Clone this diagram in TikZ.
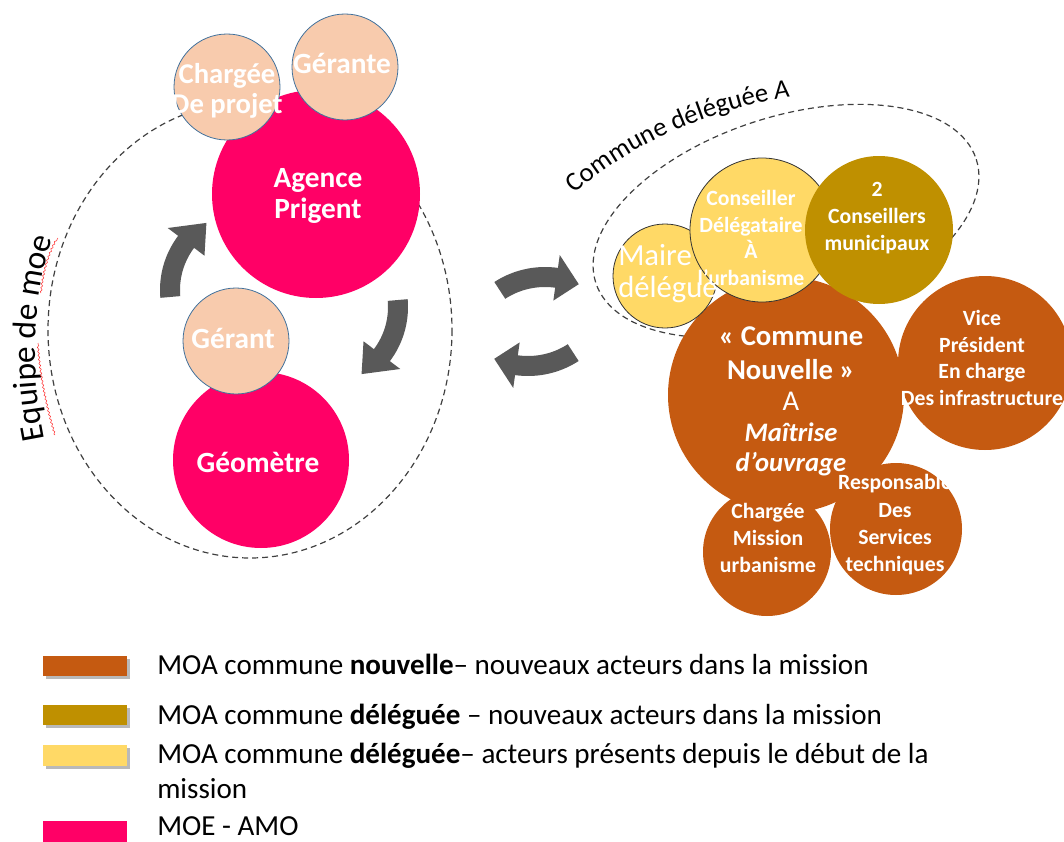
\documentclass[tikz,border=0pt]{standalone}
\usepackage{fontspec}
\setmainfont{Carlito}
\usetikzlibrary{decorations.text,decorations.pathmorphing}
\definecolor{moe}{HTML}{FF0066}
\definecolor{peach}{HTML}{F8CBAD}
\definecolor{peachline}{HTML}{41719C}
\definecolor{nouv}{HTML}{C55A11}
\definecolor{gold}{HTML}{BF9000}
\definecolor{yel}{HTML}{FFD966}
\definecolor{arrgray}{HTML}{595959}
\definecolor{dashgray}{HTML}{404040}
\newcommand{\bentarrow}[8]{%
 \fill[arrgray] plot[domain=#5:#6,samples=24] ({#1+(#3+#4)*cos(\x)},{#2+(#3+#4)*sin(\x)})
 -- ({#1+(#3+#7)*cos(#6)},{#2+(#3+#7)*sin(#6)})
 -- ({#1+#3*cos(#8)},{#2+#3*sin(#8)})
 -- ({#1+(#3-#7)*cos(#6)},{#2+(#3-#7)*sin(#6)})
 -- plot[domain=#6:#5,samples=24] ({#1+(#3-#4)*cos(\x)},{#2+(#3-#4)*sin(\x)}) -- cycle;}
\tikzset{
 disc/.style={circle, inner sep=0pt, outer sep=0pt},
 peachdisc/.style={disc, fill=peach, draw=peachline, line width=0.6pt},
 bigtxt/.style={text=white, font=\bfseries\fontsize{22}{23.5}\selectfont, align=center, inner sep=0pt},
 midtxt/.style={text=white, font=\bfseries\fontsize{16.3}{20}\selectfont, align=center, inner sep=0pt},
 dashline/.style={draw=dashgray, line width=0.9pt, dash pattern=on 4.5pt off 3pt},
 leg/.style={font=\fontsize{21.8}{26}\selectfont, inner sep=0pt, text=black},
}
\begin{document}
\begin{tikzpicture}[x=0.75pt,y=-0.75pt]
\useasboundingbox (0,0) rectangle (1064,842);
% ---------- left group ----------
\draw[dashline] (250,330) ellipse [x radius=202, y radius=228];
\path[decorate, decoration={text along path, text align=center,
  text={|\fontsize{25}{30}\selectfont|Equipe de moe}}]
  (47,452) .. controls (30,382) and (30,292) .. (57,226);
\draw[red!80, line width=0.4pt, decorate, decoration={snake, segment length=3pt, amplitude=0.6pt}]
  (55,435) .. controls (46,405) and (40,375) .. (38,343);
\draw[red!80, line width=0.4pt, decorate, decoration={snake, segment length=3pt, amplitude=0.6pt}]
  (41,293) .. controls (43,270) and (50,250) .. (58,238);
\bentarrow{250}{290}{80}{10}{175}{217}{23}{237}
\bentarrow{318}{307}{80}{10}{355}{397}{23}{417}
\node[disc, fill=moe, minimum size=156pt] (agence) at (316,194) {};
\node[peachdisc, minimum size=79.5pt] (chargee) at (227,87) {};
\node[peachdisc, minimum size=79.5pt] (gerante) at (345,67) {};
\node[disc, fill=moe, minimum size=132pt] (geometre) at (261,460) {};
\node[peachdisc, minimum size=79.5pt] (gerant) at (236,341) {};
\node[bigtxt] at (318,196) {Agence\\Prigent};
\node[bigtxt, font=\bfseries\fontsize{21.5}{22}\selectfont] at (227,91) {Chargée\\De projet};
\node[bigtxt] at (342,63) {Gérante};
\node[bigtxt] at (233,338) {Gérant};
\node[bigtxt] at (258,462) {Géomètre};
% ---------- middle arrows ----------
\bentarrow{545}{360}{83}{10}{237}{278}{23}{294}
\bentarrow{528}{283}{83}{10}{57}{98}{23}{114}
% ---------- right group ----------
\draw[dashline, rotate around={18:(786,221)}] (786,221) ellipse [x radius=200, y radius=104];
\path[decorate, decoration={text along path, text align=center,
  text={|\fontsize{20}{24}\selectfont|Commune déléguée |\fontsize{20}{24}\selectfont\itshape|A}}]
  (568,200) .. controls (620,150) and (700,110) .. (800,95);
\node[disc, fill=nouv, minimum size=177pt] (nouvelle) at (786,395) {};
\node[disc, fill=nouv, minimum size=130.5pt] (vice) at (985,363) {};
\node[disc, fill=nouv, minimum size=96pt] (mission) at (767,552) {};
\node[disc, fill=nouv, minimum size=99pt] (resp) at (896,529) {};
\node[midtxt] at (982,358) {Vice\\Président\\En charge\\Des infrastructure};
\node[midtxt, font=\bfseries\fontsize{16.3}{20.5}\selectfont] at (768,538) {Chargée\\Mission\\urbanisme};
\fill[white] (819,508) -- (825,508) -- (822,513) -- cycle;
\node[midtxt, font=\bfseries\fontsize{16.3}{20.5}\selectfont] at (895,525) {Responsable\\Des\\Services\\techniques};
\node[disc, fill=yel, draw=black!80, line width=0.6pt, minimum size=78pt] (maire) at (665,276) {};
\node[text=white, font=\fontsize{23}{24}\selectfont, align=left, inner sep=0pt, anchor=west] at (618,274) {Maire\\délégué};
\node[disc, fill=yel, draw=black!80, line width=0.6pt, minimum size=108pt] (conseiller) at (762,230) {};
\node[midtxt] at (751,238) {Conseiller\\Délégataire\\À\\l’urbanisme};
\node[disc, fill=gold, minimum size=111pt] (conseillers) at (879,230) {};
\node[midtxt] at (877,218) {2\\Conseillers\\municipaux};
\node[text=white, align=center, inner sep=0pt, font=\bfseries\fontsize{21.5}{26}\selectfont] at (791,401)
 {« Commune\\Nouvelle »\\[-3pt]{\mdseries A}\\[-3pt]{\fontsize{20}{26}\selectfont\itshape Maîtrise}\\[-3.5pt]{\fontsize{20}{26}\selectfont\itshape d’ouvrage}};
% ---------- legend ----------
\fill[gray!55] (46,659) rectangle (130,679);
\fill[nouv] (43,656) rectangle (127,676);
\fill[gray!55] (46,708) rectangle (130,728);
\fill[gold] (43,705) rectangle (127,725);
\fill[gray!55] (46,748) rectangle (130,769);
\fill[yel] (43,745) rectangle (127,766);
\fill[moe] (43,821) rectangle (127,842);
\node[leg, anchor=base west] (l1) at (157,674) {MOA commune \textbf{nouvelle}– nouveaux acteurs dans la mission};
\node[leg, anchor=base west] (l2) at (157,724) {MOA commune \textbf{déléguée} – nouveaux acteurs dans la mission};
\node[leg, anchor=base west] (l3) at (157,763) {MOA commune \textbf{déléguée}– acteurs présents depuis le début de la};
\node[leg, anchor=base west] (l3b) at (157,798) {mission};
\node[leg, anchor=base west] (l4) at (157,835) {MOE - AMO};
\end{tikzpicture}
\end{document}
